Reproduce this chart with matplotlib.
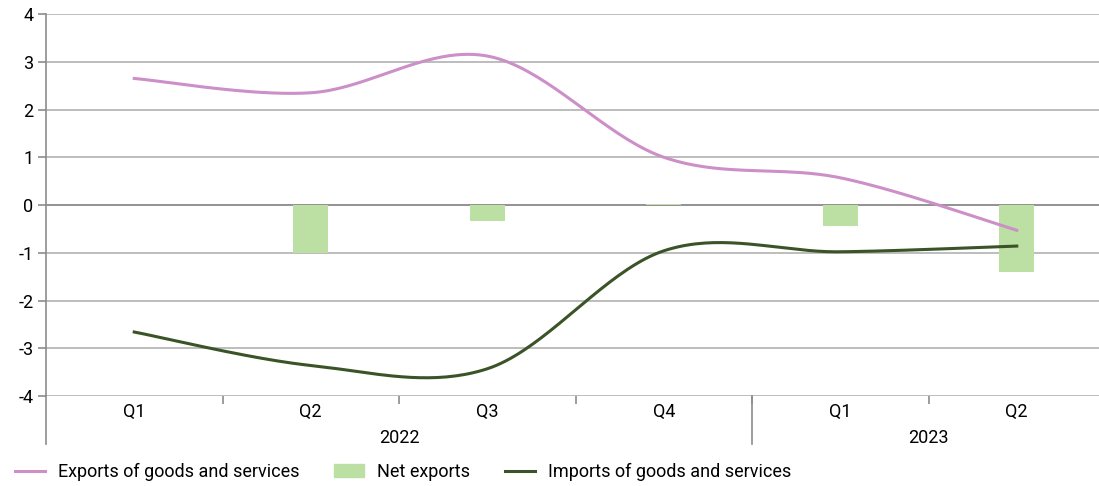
import numpy as np
import matplotlib
matplotlib.use("Agg")
import matplotlib.pyplot as plt
from matplotlib.patches import Patch
from matplotlib.lines import Line2D

plt.rcParams['font.family'] = ['Roboto', 'DejaVu Sans']
plt.rcParams['axes.unicode_minus'] = False

# data
quarters = ['Q1', 'Q2', 'Q3', 'Q4', 'Q1', 'Q2']
years = ['2022', '2023']
year_spans = [(0, 3), (4, 5)]
exports = [2.65, 2.35, 3.12, 1.0, 0.57, -0.53]
net_exports = [0.0, -1.0, -0.33, 0.03, -0.44, -1.4]
imports = [-2.66, -3.36, -3.43, -0.96, -0.98, -0.86]

pink = '#CC8FC8'
dark_green = '#3A5327'
light_green = '#BCDFA3'
grid_col = '#ABABAB'
axis_col = '#8C8C8C'
fs = 13


def smooth(xs, ys, n=40):
    # Excel-like smoothed line: Bezier segments with Catmull-Rom control points
    xs = np.asarray(xs, float)
    ys = np.asarray(ys, float)
    px = np.concatenate([[xs[0]], xs, [xs[-1]]])
    py = np.concatenate([[ys[0]], ys, [ys[-1]]])
    out_x, out_y = [], []
    t = np.linspace(0, 1, n)
    for i in range(1, len(px) - 2):
        p0 = np.array([px[i], py[i]])
        p3 = np.array([px[i + 1], py[i + 1]])
        c1 = p0 + (p3 - np.array([px[i - 1], py[i - 1]])) / 6
        c2 = p3 - (np.array([px[i + 2], py[i + 2]]) - p0) / 6
        pts = ((1 - t)[:, None] ** 3 * p0 + 3 * ((1 - t) ** 2 * t)[:, None] * c1
               + 3 * ((1 - t) * t ** 2)[:, None] * c2 + (t ** 3)[:, None] * p3)
        out_x.extend(pts[:, 0])
        out_y.extend(pts[:, 1])
    return np.array(out_x), np.array(out_y)


fig = plt.figure(figsize=(10.99, 4.86), dpi=100)
ax = fig.add_axes([46 / 1099, 1 - 396 / 486, (1105 - 46) / 1099, (396 - 14) / 486])

x = np.arange(len(quarters))
ax.set_xlim(-0.5, len(quarters) - 0.5)
ax.set_ylim(-4, 4)
ax.set_yticks(range(-4, 5))
ax.yaxis.grid(True, color=grid_col, linewidth=1.1)
ax.set_axisbelow(True)

ax.bar(x, net_exports, width=0.2, color=light_green, zorder=2)

sx, sy = smooth(x, exports)
ax.plot(sx, sy, color=pink, linewidth=2.2, zorder=3)
sx, sy = smooth(x, imports)
ax.plot(sx, sy, color=dark_green, linewidth=2.2, zorder=3)

for s in ['top', 'right', 'bottom']:
    ax.spines[s].set_visible(False)
ax.spines['left'].set_color(axis_col)
ax.spines['left'].set_linewidth(1.2)
ax.axhline(0, color=axis_col, linewidth=1.2, zorder=1)

# category axis at bottom
ax.set_xticks(x)
ax.set_xticklabels(quarters, fontsize=fs)
ax.tick_params(axis='x', length=0, pad=5)
ax.set_xticks(np.arange(0.5, len(quarters) - 1, 1.0), minor=True)
ax.tick_params(axis='x', which='minor', length=6, color=axis_col, width=1.2, direction='out')
ax.tick_params(axis='y', length=6, color=axis_col, width=1.2, labelsize=fs, pad=3)

# long separator lines for year groups and left spine extension
for xp in [-0.5, 3.5]:
    ax.plot([xp, xp], [-4, -5.0], color=axis_col, linewidth=1.2, clip_on=False)
for (a, b), yr in zip(year_spans, years):
    ax.text((a + b) / 2, -4.87, yr, ha='center', va='center', fontsize=fs)

handles = [Line2D([0], [0], color=pink, linewidth=2.2),
           Patch(color=light_green),
           Line2D([0], [0], color=dark_green, linewidth=2.2)]
labels = ['Exports of goods and services', 'Net exports', 'Imports of goods and services']
fig.legend(handles, labels, loc='center left', bbox_to_anchor=(15 / 1099, 0.029), ncol=3,
           frameon=False, fontsize=fs, handlelength=1.65, columnspacing=1.9,
           handletextpad=0.75, borderpad=0, borderaxespad=0)

fig.savefig('out.png', dpi=100)
